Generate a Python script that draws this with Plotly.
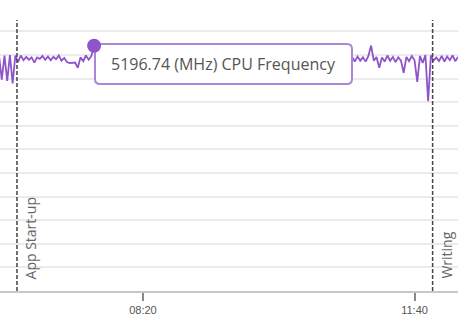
import pandas as pd
import plotly.graph_objects as go

# ---- data ----
start_s = 394
step_s = 2
cpu_mhz = [
    4980, 4480, 4990, 4450, 5000, 4400, 4990, 4850, 4990, 4890,
    4960, 4900, 4950, 4840, 4950, 4920, 4980, 4900, 4970, 4890,
    4960, 4910, 4990, 4880, 4940, 4850, 4830, 4830, 4840, 4730,
    4950, 4870, 4990, 4900, 4980, 5196.74,
    4920, 4980, 4870, 4960, 4900, 4990, 4850, 4950, 4910, 4970,
    4880, 5000, 4930, 4860, 4970, 4900, 4950, 4820, 4960, 4990,
    4890, 4940, 4870, 4980, 4910, 4960, 4800, 4950, 4900, 4990,
    4930, 4870, 4970, 4910, 5010, 4890, 4950, 4860, 4980, 4920,
    4960, 4880, 4990, 4900, 4940, 4850, 4970, 4910, 4980, 4870,
    4950, 4930, 4990, 4890, 4960, 4840, 4970, 4920, 5000, 4900,
    4950, 4880, 4980, 4910, 4960, 4870, 4990, 4930, 4900, 4970,
    4860, 4950, 4920, 4990, 4890, 4960, 4910, 4980, 4870, 4940,
    4900, 4970, 4850, 4960, 4920, 4990, 4880, 4950, 4910, 4970,
    4930, 4890, 4980, 4920,
    4960, 4860, 4970, 4880, 4950, 4860, 4980, 5200, 4880, 4960,
    4730, 4950, 4860, 4990, 4880, 4960, 4850, 4950, 4880, 4620,
    4960, 4870, 4980, 4890, 4430, 4980, 4830, 5000, 4020, 4990,
    4880, 4950, 4870, 4980, 4860, 4970, 4890, 4990, 4870, 4960,
]
seconds = [start_s + step_s * i for i in range(len(cpu_mhz))]
times = pd.to_datetime(seconds, unit="s")

event_names = ["App Start-up", "Writing"]
event_seconds = [407.2, 713.3]
event_times = pd.to_datetime(event_seconds, unit="s")

hover_index = 35
hover_label = f"{cpu_mhz[hover_index]:.2f} (MHz) CPU Frequency"

x_range_s = [394.7, 732.0]
y_range = [0, 5742]

LINE = "#8e54c9"
BOX = "#ae86d9"

fig = go.Figure()
fig.add_trace(go.Scatter(
    x=times, y=cpu_mhz, mode="lines",
    line=dict(color=LINE, width=1.8), hoverinfo="skip", showlegend=False,
))

shapes = []
annotations = []
for name, t in zip(event_names, event_times):
    shapes.append(dict(
        type="line", xref="x", yref="paper", x0=t, x1=t, y0=0, y1=1,
        line=dict(color="#444444", width=1.5, dash="4px,2px"), layer="above",
    ))
    annotations.append(dict(
        x=t, xref="x", y=0, yref="paper", text=name, showarrow=False,
        textangle=-90, xanchor="left", yanchor="bottom", xshift=2, yshift=10,
        font=dict(family="Open Sans", size=14, color="#666666"),
    ))

# hover-style box (pixel -> paper)
W, H = 458, 271
bx0, bx1 = 95 / W, 352 / W
by1, by0 = (291 - 44) / H, (291 - 84) / H
rx, ry = 5 / W, 5 / H
path = (
    f"M {bx0+rx},{by1} L {bx1-rx},{by1} Q {bx1},{by1} {bx1},{by1-ry} "
    f"L {bx1},{by0+ry} Q {bx1},{by0} {bx1-rx},{by0} "
    f"L {bx0+rx},{by0} Q {bx0},{by0} {bx0},{by0+ry} "
    f"L {bx0},{by1-ry} Q {bx0},{by1} {bx0+rx},{by1} Z"
)
shapes.append(dict(
    type="path", xref="paper", yref="paper", path=path,
    fillcolor="white", line=dict(color=BOX, width=2), layer="above",
))
shapes.append(dict(
    type="circle", xref="x", yref="y", xsizemode="pixel", ysizemode="pixel",
    xanchor=times[hover_index], yanchor=cpu_mhz[hover_index],
    x0=-7, x1=7, y0=-7, y1=7,
    fillcolor=LINE, line=dict(color=LINE, width=0), layer="above",
))
annotations.append(dict(
    x=(bx0 + bx1) / 2, y=(by0 + by1) / 2, xref="paper", yref="paper",
    text=hover_label, showarrow=False, xanchor="center", yanchor="middle",
    font=dict(family="Open Sans", size=16, color="#555555"),
))

fig.update_layout(
    width=458, height=328,
    margin=dict(l=0, r=0, t=20, b=37),
    paper_bgcolor="white", plot_bgcolor="white",
    shapes=shapes, annotations=annotations,
    xaxis=dict(
        type="date",
        range=list(pd.to_datetime(x_range_s, unit="s")),
        tick0=pd.to_datetime(100, unit="s"), dtick=200000,
        tickformat="%M:%S", showgrid=False, zeroline=False,
        showline=True, linecolor="#c8c8c8", linewidth=1.5,
        ticks="outside", ticklen=8, tickcolor="#888888", tickwidth=1.5,
        tickfont=dict(family="Liberation Sans", size=11, color="#555555"),
    ),
    yaxis=dict(
        range=y_range, dtick=500, showticklabels=False,
        showgrid=True, gridcolor="#ebebeb", gridwidth=2,
        zeroline=False, showline=False,
    ),
)

fig.write_html("out.html")
